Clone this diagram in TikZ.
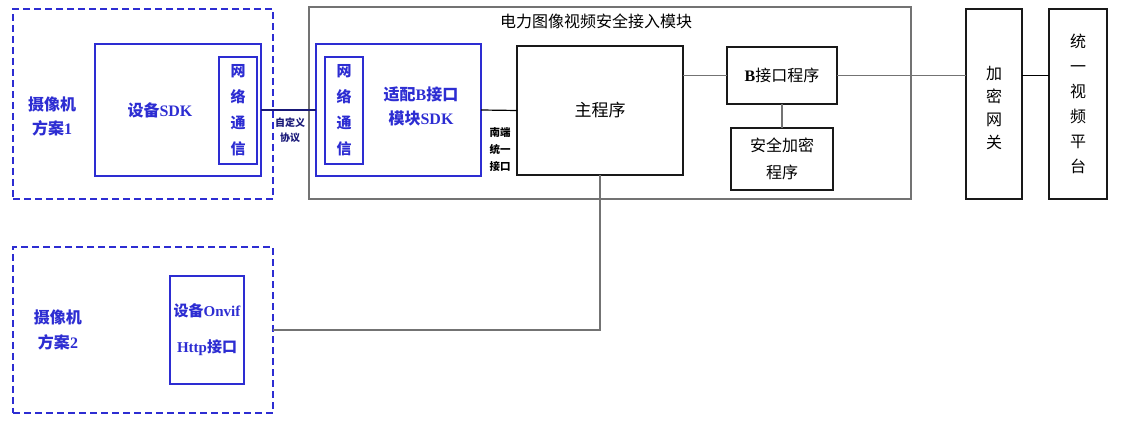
\documentclass[tikz,border=0pt]{standalone}
\usepackage{fontspec}
\setmainfont{Noto Sans CJK SC}
\newfontfamily\lat{Liberation Serif}
\definecolor{cblue}{RGB}{45,45,210}
\definecolor{cnavy}{RGB}{25,25,120}
\definecolor{cgray}{RGB}{115,115,115}
\begin{document}
\begin{tikzpicture}[x=1pt,y=-1pt,
  bx/.style={draw, rectangle, anchor=north west, inner sep=0pt, outer sep=0pt, align=center},
  bluebox/.style={bx, draw=cblue, line width=1.2pt, text=cblue},
  dashbox/.style={bx, draw=cblue, line width=1.2pt, dash pattern=on 7pt off 4pt},
  graybox/.style={bx, draw=cgray, line width=1.6pt},
  blackbox/.style={bx, draw=black!90, line width=1.1pt},
  bluetxt/.style={text=cblue, font=\bfseries\fontsize{16}{24}\selectfont, align=center, inner sep=0pt},
  blacktxt/.style={text=black, font=\fontsize{15}{26}\selectfont, align=center, inner sep=0pt},
  smalltxt/.style={font=\bfseries\fontsize{10}{15}\selectfont, align=center, inner sep=0pt},
  link/.style={line width=1.4pt, draw=cgray},
]
\useasboundingbox (0,0) rectangle (1122,427);

% camera 1
\node[dashbox, minimum width=260pt, minimum height=190pt] (cam1) at (13,9) {};
\node[bluebox, minimum width=166pt, minimum height=132pt] (sdk) at (95,44) {};
\node[bluebox, minimum width=38pt, minimum height=107pt, font=\bfseries\fontsize{15}{26}\selectfont] (net1) at (219,57) {网\\络\\通\\信};
\node[bluetxt] (cam1lbl) at (52,116) {摄像机\\方案{\lat 1}};
\node[bluetxt] (sdklbl) at (160,110) {设备{\lat SDK}};

% module
\node[graybox, minimum width=602pt, minimum height=192pt] (module) at (309,7) {};
\node[blacktxt, font=\fontsize{16}{20}\selectfont] (title) at (596,21) {电力图像视频安全接入模块};
\node[bluebox, minimum width=165pt, minimum height=132pt] (adapt) at (316,44) {};
\node[bluebox, minimum width=38pt, minimum height=107pt, font=\bfseries\fontsize{15}{26}\selectfont] (net2) at (325,57) {网\\络\\通\\信};
\node[bluetxt] (adaptlbl) at (421,106) {适配{\lat B}接口\\模块{\lat SDK}};

\node[blackbox, minimum width=166pt, minimum height=129pt, font=\fontsize{17}{20}\selectfont] (main) at (517,46) {主程序};
\node[blackbox, minimum width=110pt, minimum height=57pt, font=\fontsize{16}{20}\selectfont] (bprog) at (727,47) {\raisebox{-3pt}{{\lat\bfseries B}接口程序}};
\node[blackbox, minimum width=102pt, minimum height=62pt, font=\fontsize{16}{27}\selectfont] (sec) at (731,128) {安全加密\\程序};

% right side
\node[blackbox, minimum width=56pt, minimum height=190pt, font=\fontsize{16}{23}\selectfont] (gw) at (966,9) {\\[-2pt]加\\密\\网\\关};
\node[blackbox, minimum width=58pt, minimum height=190pt, font=\fontsize{16}{25}\selectfont] (plat) at (1049,9) {统\\一\\视\\频\\平\\台};

% camera 2
\node[dashbox, minimum width=260pt, minimum height=166pt] (cam2) at (13,247) {};
\node[bluebox, minimum width=74pt, minimum height=108pt, font=\bfseries\fontsize{15}{36}\selectfont] (onvif) at (170,276) {设备{\lat Onvif}\\{\lat Http}接口};
\node[bluetxt, font=\bfseries\fontsize{16}{25}\selectfont] (cam2lbl) at (58,330) {摄像机\\方案{\lat 2}};

% small labels
\node[smalltxt, text=cnavy] (proto) at (290,130) {自定义\\协议};
\node[smalltxt, text=black, font=\bfseries\fontsize{10.5}{17}\selectfont] (south) at (500,150) {南端\\统一\\接口};

% connectors
\draw[line width=1.2pt, cnavy] (sdk.east) -- (adapt.west);
\draw[line width=1.2pt, black] (adapt.east) -- (main.west);
\draw[link] (bprog.west) -- (bprog.west -| main.east);
\draw[link] (bprog.south) -- (sec.north);
\draw[link] (bprog.east) -- (bprog.east -| gw.west);
\draw[line width=1.2pt, black] (bprog.east -| gw.east) -- (bprog.east -| plat.west);
\draw[link, line width=1.6pt] (main.south) |- (cam2.east);
\end{tikzpicture}
\end{document}
